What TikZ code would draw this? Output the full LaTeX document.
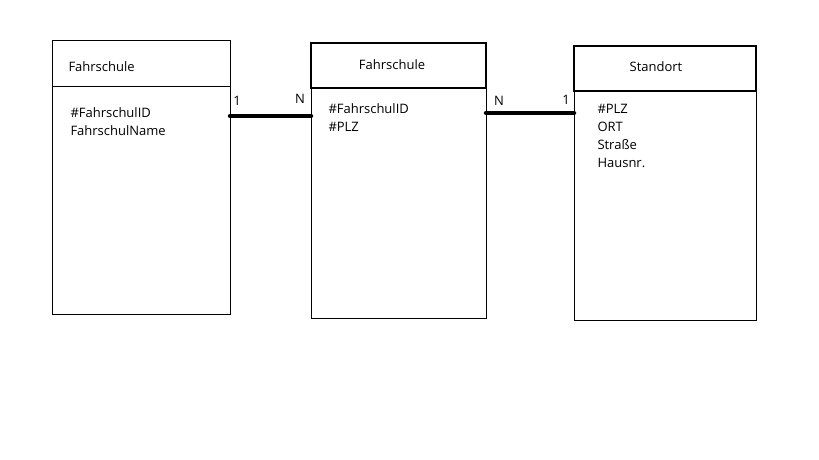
\documentclass[tikz,border=0pt]{standalone}
\usepackage{fontspec}
\setmainfont{Open Sans}
\usetikzlibrary{calc}

\begin{document}
\begin{tikzpicture}[x=1pt, y=-1pt, line width=1pt,
  kopf/.style={draw, anchor=north west, minimum width=#1, minimum height=45pt, inner sep=0pt, outer sep=0pt},
  rumpf/.style={draw, anchor=north west, minimum width=#1, inner sep=0pt, outer sep=0pt},
  titel/.style={font=\fontsize{13}{15}\selectfont, inner sep=0pt},
  attr/.style={font=\fontsize{13}{15}\selectfont, anchor=base west, inner sep=0pt},
  card/.style={font=\fontsize{13}{15}\selectfont, inner sep=0pt},
  bez/.style={line width=4.5pt, line cap=round}]

% Bounding box of the whole picture
\useasboundingbox (0,0) rectangle (819,460);

% Left entity
\node[kopf=178pt] (k1) at (52,41) {};
\node[rumpf=178pt, minimum height=228pt] (r1) at (k1.south west) {};
\node[titel, anchor=west] (t1) at (68,67) {Fahrschule};

% Middle entity, its header drawn heavier
\node[kopf=175pt, line width=2pt] (k2) at (311,43) {};
\node[rumpf=175pt, minimum height=230pt] (r2) at (k2.south west) {};
\node[titel] (t2) at (392,65) {Fahrschule};

% Right entity
\node[kopf=182pt, line width=1.5pt] (k3) at (574,46) {};
\node[rumpf=182pt, minimum height=229pt] (r3) at (k3.south west) {};
\draw[line width=2.5pt] (k3.north east) -- (k3.south east);
\node[titel] (t3) at (656,67) {Standort};

% Attributes
\foreach \txt [count=\i] in {\#FahrschulID, FahrschulName} {
  \node[attr] (a\i) at (70, 99.5+18*\i) {\txt};
}
\foreach \txt [count=\i] in {\#FahrschulID, \#PLZ} {
  \node[attr] (b\i) at (328, 95.5+18*\i) {\txt};
}
\foreach \txt [count=\i] in {\#PLZ, ORT, Straße, Hausnr.} {
  \node[attr] (c\i) at (597, 95.5+18*\i) {\txt};
}

% Relationships between the entities
\draw[bez] ($(r1.north east)+(0,30)$) coordinate (v1) -- (v1 -| r2.west);
\draw[bez] ($(r2.north east)+(0,25)$) coordinate (v2) -- (v2 -| r3.west);

% Cardinalities
\foreach \n\x\y\t in {m1/237/101/1, m2/300/99/N, m3/499/101/N, m4/566/100/1} {
  \node[card] (\n) at (\x,\y) {\t};
}

\end{tikzpicture}
\end{document}
